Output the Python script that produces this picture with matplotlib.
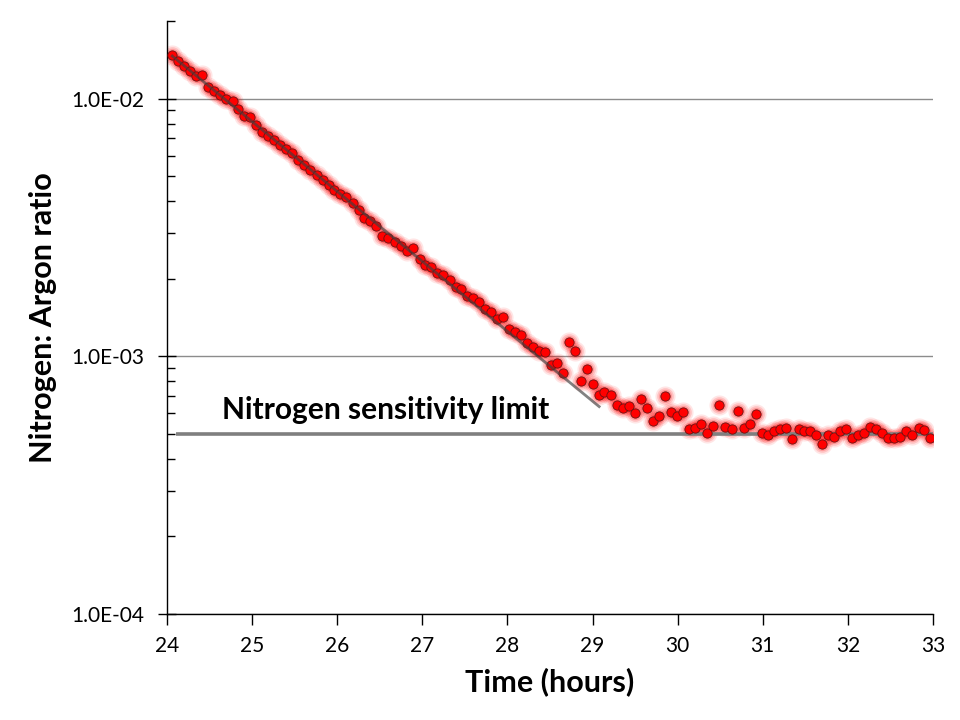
import matplotlib
matplotlib.use("Agg")
import matplotlib.pyplot as plt
from matplotlib.ticker import FixedLocator, FuncFormatter, LogLocator, NullFormatter

# ---------------- data ----------------
time_h = [24.06, 24.13, 24.20, 24.27, 24.34, 24.41, 24.48, 24.55, 24.62, 24.69,
          24.77, 24.84, 24.91, 24.98, 25.05, 25.12, 25.19, 25.26, 25.33, 25.40,
          25.47, 25.54, 25.61, 25.68, 25.76, 25.83, 25.90, 25.96, 26.03, 26.10,
          26.18, 26.25, 26.32, 26.39, 26.46, 26.53, 26.60, 26.68, 26.75, 26.82,
          26.89, 26.97, 27.03, 27.10, 27.17, 27.24, 27.32, 27.39, 27.46, 27.53,
          27.60, 27.67, 27.74, 27.81, 27.88, 27.95, 28.02, 28.09, 28.16, 28.23,
          28.30, 28.37, 28.44, 28.51, 28.58, 28.65, 28.72, 28.79, 28.87, 28.94,
          29.00, 29.08, 29.14, 29.22, 29.29, 29.36, 29.43, 29.50, 29.57, 29.64,
          29.71, 29.78, 29.85, 29.92, 29.99, 30.06, 30.13, 30.20, 30.27, 30.35,
          30.42, 30.49, 30.56, 30.64, 30.71, 30.78, 30.85, 30.92, 30.99, 31.06,
          31.13, 31.20, 31.27, 31.34, 31.42, 31.49, 31.56, 31.63, 31.70, 31.77,
          31.84, 31.91, 31.98, 32.05, 32.12, 32.19, 32.26, 32.33, 32.40, 32.47,
          32.54, 32.61, 32.68, 32.75, 32.83, 32.90, 32.97]

n2_ar_ratio = [0.01474, 0.01397, 0.01340, 0.01285, 0.01221, 0.01240, 0.01110, 0.01071, 0.01036, 0.01000,
               0.00976, 0.00914, 0.00856, 0.00846, 0.00792, 0.00742, 0.00716, 0.00688, 0.00662, 0.00639,
               0.00616, 0.00580, 0.00550, 0.00526, 0.00503, 0.00483, 0.00464, 0.00440, 0.00427, 0.00415,
               0.00393, 0.00368, 0.00344, 0.00334, 0.00320, 0.00294, 0.00287, 0.00278, 0.00267, 0.00257,
               0.00262, 0.00238, 0.00226, 0.00223, 0.00211, 0.00207, 0.00197, 0.00186, 0.00183, 0.00172,
               0.00169, 0.00162, 0.00152, 0.00148, 0.00140, 0.00142, 0.00128, 0.00124, 0.00121, 0.00113,
               0.00109, 0.00105, 0.00104, 0.000923, 0.000939, 0.000861, 0.00114, 0.00105, 0.000801, 0.000896,
               0.000778, 0.000710, 0.000729, 0.000706, 0.000646, 0.000628, 0.000639, 0.000600, 0.000682, 0.000629,
               0.000559, 0.000584, 0.000700, 0.000607, 0.000584, 0.000607, 0.000520, 0.000525, 0.000546, 0.000503,
               0.000535, 0.000646, 0.000531, 0.000521, 0.000613, 0.000529, 0.000545, 0.000596, 0.000503, 0.000496,
               0.000511, 0.000520, 0.000526, 0.000477, 0.000520, 0.000514, 0.000511, 0.000497, 0.000455, 0.000493,
               0.000487, 0.000512, 0.000521, 0.000483, 0.000497, 0.000503, 0.000531, 0.000520, 0.000503, 0.000483,
               0.000483, 0.000487, 0.000512, 0.000494, 0.000526, 0.000517, 0.000483]

fit_t = [24.05, 29.09]
fit_v = [0.01474, 0.000633]

limit_t = [24.11, 33.0]
limit_v = [5.0e-4, 5.0e-4]
limit_label = "Nitrogen sensitivity limit"

x_ticks = [24, 25, 26, 27, 28, 29, 30, 31, 32, 33]
y_major = [1e-4, 1e-3, 1e-2]

# ---------------- figure ----------------
plt.rcParams['font.family'] = ['Lato', 'DejaVu Sans']

fig = plt.figure(figsize=(9.6, 7.2), dpi=100)
ax = fig.add_axes([167/960, 1 - 614/720, (933 - 167)/960, (614 - 21)/720])

ax.set_yscale('log')
ax.set_xlim(24, 33)
ax.set_ylim(1e-4, 2e-2)

ax.yaxis.set_major_locator(FixedLocator(y_major))
ax.yaxis.set_minor_locator(LogLocator(base=10, subs=range(2, 10)))
ax.yaxis.set_major_formatter(FuncFormatter(lambda v, p: f"{v:.1E}"))
ax.yaxis.set_minor_formatter(NullFormatter())
ax.grid(True, which='major', axis='y', color='#8c8c8c', linewidth=1.0, zorder=0)
ax.set_axisbelow(True)

ax.xaxis.set_major_locator(FixedLocator(x_ticks))

for s in ['top', 'right']:
    ax.spines[s].set_visible(False)
for s in ['left', 'bottom']:
    ax.spines[s].set_linewidth(1.0)
    ax.spines[s].set_color('black')

ax.tick_params(axis='y', which='major', direction='inout', length=13, width=1.0,
               labelsize=15, pad=10, colors='black')
ax.tick_params(axis='y', which='minor', direction='in', length=6, width=1.0)
ax.tick_params(axis='x', which='major', direction='out', length=8, width=1.0,
               labelsize=15, pad=8)

# glow layers
for ms, a in [(14.5, 0.10), (12.0, 0.15), (9.5, 0.20)]:
    ax.plot(time_h, n2_ar_ratio, linestyle='none', marker='o', markersize=ms,
            markerfacecolor='#ff0000', markeredgecolor='none', alpha=a, zorder=2)

# sensitivity limit
ax.plot(limit_t, limit_v, color='#7f7f7f', linewidth=2.6, solid_capstyle='butt', zorder=3)

# data points
ax.plot(time_h, n2_ar_ratio, linestyle='none', marker='o', markersize=6.7,
        markerfacecolor='#ff0000', markeredgecolor='#6b1010', markeredgewidth=0.6, zorder=4)

# exponential fit line (straight on log axis)
ax.plot(fit_t, fit_v, color='#404040', alpha=0.65, linewidth=2.0,
        solid_capstyle='butt', zorder=5)

ax.text(24.65, 6.2e-4, limit_label, fontsize=21.5, fontweight='bold',
        ha='left', va='center', color='black', zorder=6)

ax.set_xlabel('Time (hours)', fontsize=22, fontweight='bold', labelpad=8)
ax.set_ylabel('Nitrogen: Argon ratio', fontsize=22, fontweight='bold', labelpad=10)

fig.savefig('out.png', dpi=100)
